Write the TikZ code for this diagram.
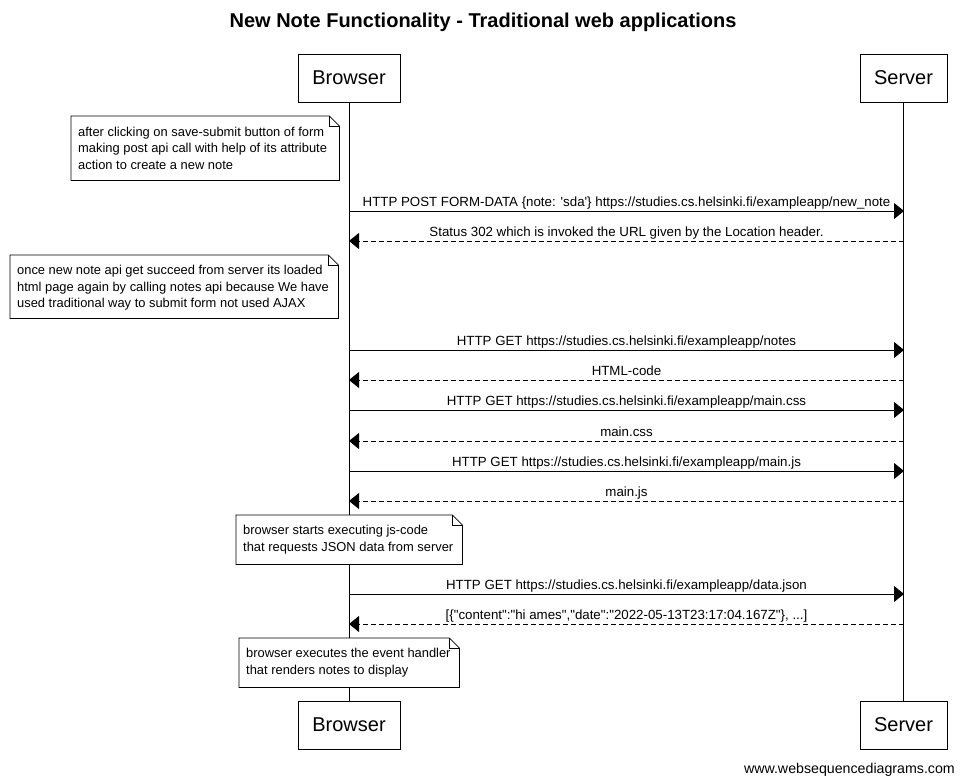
\documentclass[tikz,border=0pt]{standalone}
\usepackage{fontspec}
\setmainfont{Liberation Sans}[Ligatures=TeXOff]
\usetikzlibrary{arrows.meta,calc}
\begin{document}
\begin{tikzpicture}[x=1pt,y=-1pt,
  actor/.style={draw,line width=0.8pt,minimum height=48pt,inner sep=0pt,font=\fontsize{20}{24}\selectfont},
  life/.style={line width=0.8pt},
  msg/.style={line width=0.8pt,-{Triangle[length=10pt,width=16pt]}},
  reply/.style={msg,dash pattern=on 5pt off 3pt},
  lbl/.style={anchor=base,inner sep=0pt,font=\fontsize{13.3}{15}\selectfont},
  noteframe/.style={anchor=north west,inner sep=0pt},
  notetext/.style={anchor=west,inner sep=0pt,align=left,font=\fontsize{12.9}{16.3}\selectfont},
  fold/.style={line width=0.8pt}
]
\useasboundingbox[fill=white] (0,0) rectangle (964,784);
\node[font=\bfseries\fontsize{20}{24}\selectfont,anchor=base] (title) at (483,28) {New Note Functionality - Traditional web applications};

\node[actor,minimum width=102pt] (bt) at (349,78) {Browser};
\node[actor,minimum width=87pt] (st) at (903.5,78) {Server};
\node[actor,minimum width=102pt] (bb) at (349,725) {Browser};
\node[actor,minimum width=87pt] (sb) at (903.5,725) {Server};
\draw[life] (bt.south) -- (bb.north);
\draw[life] (st.south) -- (sb.north);

% notes
\newcommand{\drawnote}[1]{%
  \draw[fold,fill=white] (#1.north west) -- ($(#1.north east)+(-10,0)$) -- ($(#1.north east)+(0,10)$) -- (#1.south east) -- (#1.south west) -- cycle;
  \draw[fold,line width=0.5pt] ($(#1.north east)+(-10,0)$) -- ($(#1.north east)+(-10,10)$) -- ($(#1.north east)+(0,10)$);}

\path node[noteframe,minimum width=268pt,minimum height=64pt] (n1) at (71,116) {};
\drawnote{n1}
\node[notetext] (n1t) at ($(n1.west)+(7,0)$)
  {after clicking on save-submit button of form\\making post api call with help of its attribute\\action to create a new note};

\path node[noteframe,minimum width=328pt,minimum height=63pt] (n2) at (10,255) {};
\drawnote{n2}
\node[notetext] (n2t) at ($(n2.west)+(7,1)$)
  {once new note api get succeed from server its loaded\\html page again by calling notes api because We have\\used traditional way to submit form not used AJAX};

\path node[noteframe,minimum width=226pt,minimum height=49pt] (n3) at (236,515) {};
\drawnote{n3}
\node[notetext] (n3t) at ($(n3.west)+(7,0)$)
  {browser starts executing js-code\\that requests JSON data from server};

\path node[noteframe,minimum width=220pt,minimum height=49pt] (n4) at (239,638) {};
\drawnote{n4}
\node[notetext] (n4t) at ($(n4.west)+(7,0)$)
  {browser executes the event handler\\that renders notes to display};

% messages
\foreach \i/\y/\s/\t in {
  1/211/msg/{HTTP POST FORM-DATA \{note: 'sda'\} https://studies.cs.helsinki.fi/exampleapp/new\_note},
  2/241/reply/{Status 302 which is invoked the URL given by the Location header.},
  3/350/msg/{HTTP GET https://studies.cs.helsinki.fi/exampleapp/notes},
  4/380/reply/{HTML-code},
  5/410/msg/{HTTP GET https://studies.cs.helsinki.fi/exampleapp/main.css},
  6/441/reply/{main.css},
  7/471/msg/{HTTP GET https://studies.cs.helsinki.fi/exampleapp/main.js},
  8/501/reply/{main.js},
  9/594/msg/{HTTP GET https://studies.cs.helsinki.fi/exampleapp/data.json},
  10/624/reply/{[\{"content":"hi ames","date":"2022-05-13T23:17:04.167Z"\}, ...]}}
{
  \coordinate (b\i) at (349,\y);
  \coordinate (s\i) at (904,\y);
  \node[lbl] (l\i) at (626.5,\y-5) {\t};
}
\foreach \i in {1,3,5,7,9} { \draw[msg] (b\i) -- (s\i); }
\foreach \i in {2,4,6,8,10} { \draw[reply] (s\i) -- (b\i); }

\node[anchor=base east,inner sep=0pt,font=\fontsize{14.2}{16}\selectfont] (wm) at (955,773) {www.websequencediagrams.com};
\end{tikzpicture}
\end{document}
